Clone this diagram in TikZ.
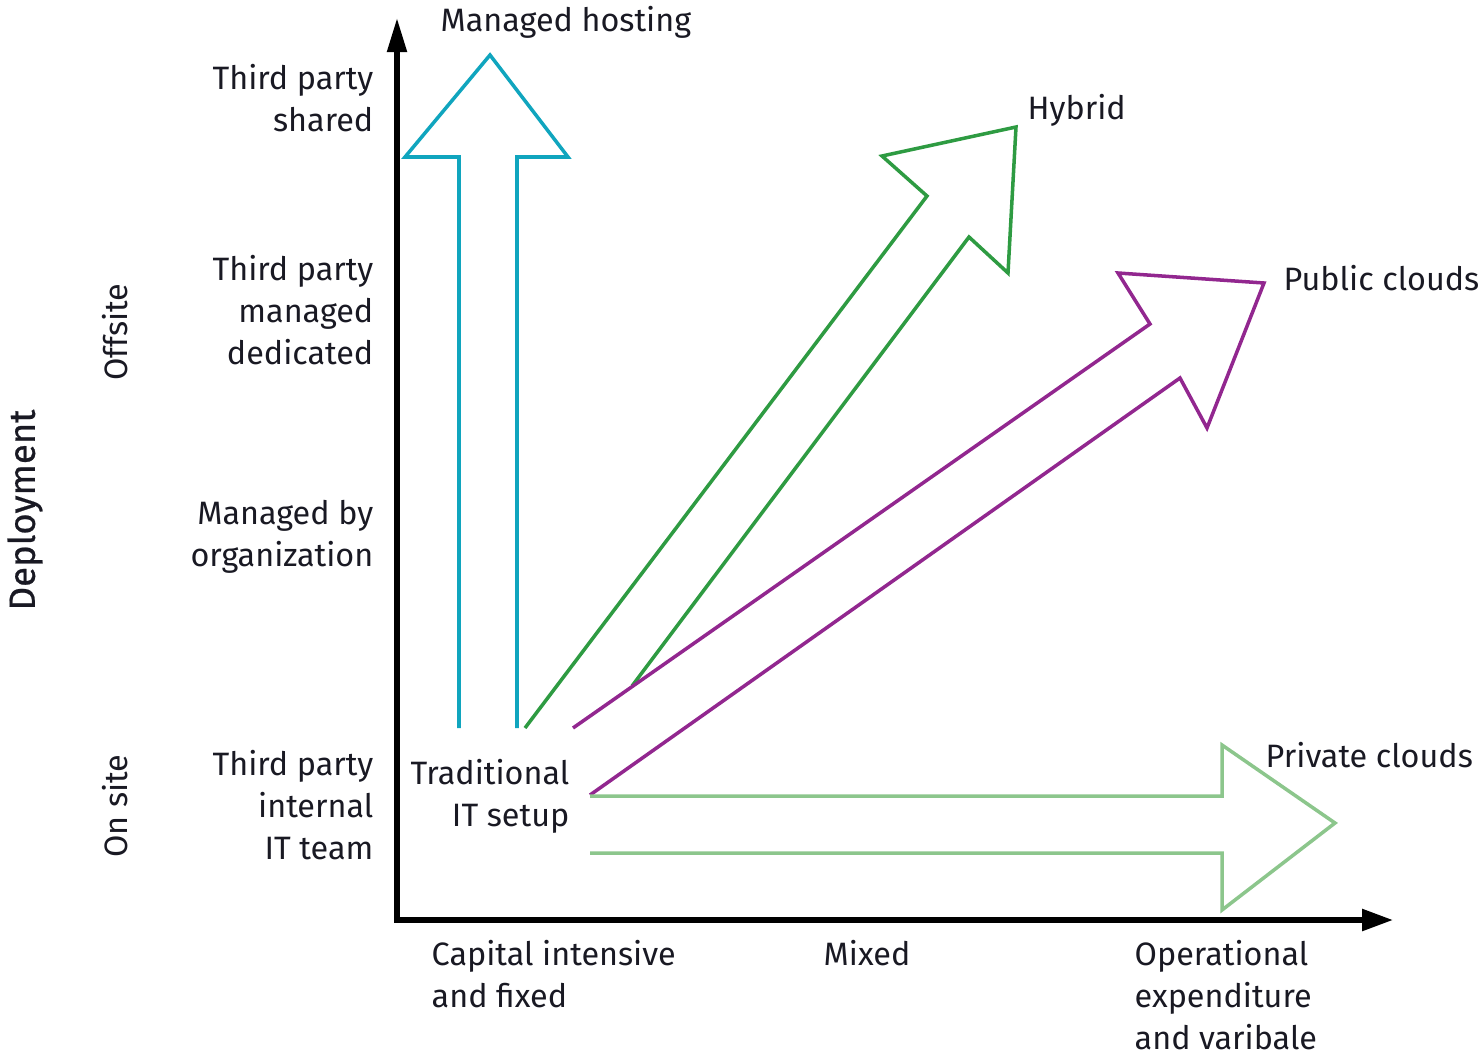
\documentclass[tikz,border=0pt]{standalone}
\usepackage{fontspec}
\setmainfont{Fira Sans}
\newfontfamily\depfont[FakeBold=0.6]{Fira Sans}
\usetikzlibrary{arrows.meta}
\definecolor{cyanA}{RGB}{16,165,190}
\definecolor{greenA}{RGB}{46,155,66}
\definecolor{purpleA}{RGB}{146,39,143}
\definecolor{lgreenA}{RGB}{140,198,140}
\definecolor{txt}{RGB}{25,25,35}
\begin{document}
\begin{tikzpicture}[x=0.01cm,y=-0.01cm,
  lbl/.style={font=\fontsize{9.2}{11.9}\selectfont, text=txt, inner sep=0pt},
  axisline/.style={line width=1.5pt, black},
  outline/.style={line width=1pt, line join=miter}]
\useasboundingbox (0,0) rectangle (1481,1054);

% axes
\coordinate (O) at (397,920);
\coordinate (ytop) at (397,18);
\coordinate (xend) at (1393,920);
\draw[axisline, {Triangle[length=9.7pt,width=5.4pt]}-{Triangle[length=8.8pt,width=6pt]}] (ytop) -- (O) -- (xend);

% Managed hosting arrow (cyan)
\draw[outline, cyanA] (459,728) -- (459,157) -- (405,157) -- (490,55) -- (568,157) -- (517,157) -- (517,728);
% Hybrid arrow (green)
\draw[outline, greenA] (525,728) -- (927,196) -- (882,156) -- (1016,127) -- (1008,273) -- (969,237) -- (632,686);
% Public clouds arrow (purple)
\draw[outline, purpleA] (573,728) -- (1150,324) -- (1118,273) -- (1264,283) -- (1207,428) -- (1180,378) -- (590,795);
% Private clouds arrow (light green)
\draw[outline, lgreenA] (590,796) -- (1222,796) -- (1222,745) -- (1335,823) -- (1222,910) -- (1222,853) -- (590,853);

% y labels
\node[lbl, anchor=east, align=right] (tps) at (374,98) {Third party\\shared};
\node[lbl, anchor=east, align=right] (tpmd) at (374,310) {Third party\\managed\\dedicated};
\node[lbl, anchor=east, align=right] (mbo) at (374,537) {Managed by\\organization};
\node[lbl, anchor=east, align=right] (tpit) at (374,805) {Third party\\internal\\IT team};
\node[lbl, rotate=90, font=\depfont\fontsize{10.4}{12}\selectfont] (dep) at (25,510) {Deployment};
\node[lbl, rotate=90] (off) at (115,332) {Offsite};
\node[lbl, rotate=90] (ons) at (115,806) {On site};

% x labels
\node[lbl, anchor=west, align=left] (cap) at (431,974) {Capital intensive\\and fixed};
\node[lbl, anchor=west] (mix) at (823,953) {Mixed};
\node[lbl, anchor=west, align=left] (ope) at (1134,995) {Operational\\expenditure\\and varibale};

% arrow labels
\node[lbl, anchor=east, align=right] (trad) at (570,796) {Traditional\\IT setup};
\node[lbl, anchor=west] (mh) at (440,22) {Managed hosting};
\node[lbl, anchor=west] (hyb) at (1027,110) {Hybrid};
\node[lbl, anchor=west] (pub) at (1283,278) {Public clouds};
\node[lbl, anchor=west] (pri) at (1265,755) {Private clouds};
\end{tikzpicture}
\end{document}
